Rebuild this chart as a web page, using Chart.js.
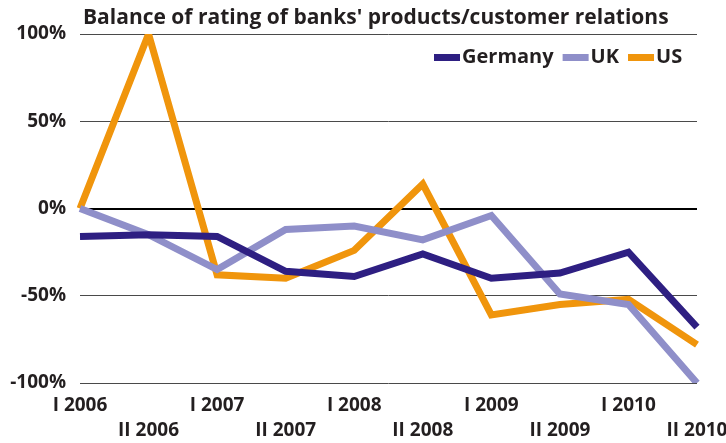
<!DOCTYPE html>
<html>
<head>
<meta charset="utf-8">
<script src="https://cdn.jsdelivr.net/npm/chart.js@4.4.1/dist/chart.umd.min.js"></script>
<style>
  html, body { margin: 0; padding: 0; background: #fff; }
  #wrap { width: 726px; height: 443px; position: relative; }
</style>
</head>
<body>
<div id="wrap"><canvas id="c" width="726" height="443"></canvas></div>
<script>
const titleText = "Balance of rating of banks' products/customer relations";
const periods = ["I 2006", "II 2006", "I 2007", "II 2007", "I 2008", "II 2008", "I 2009", "II 2009", "I 2010", "II 2010"];
const germany = [-16, -15, -16, -36, -39, -26, -40, -37, -25, -68];
const uk = [0, -15, -35, -12, -10, -18, -4, -49, -55, -100];
const us = [0, 100, -38, -40, -24, 14, -61, -55, -52, -78];
const seriesNames = ["Germany", "UK", "US"];
const seriesColors = ["#2e1f82", "#8f8fc9", "#f0950c"];

const FONT = "'Open Sans', sans-serif";
const INK = "#231f20";

// Two-row category labels: first half-years on the top row, second on the bottom row
const staggered = periods.map((p, i) => (i % 2 === 0 ? [p, ""] : ["", p]));

// Title plus an in-plot legend drawn over the plot
const overlay = {
  id: "overlay",
  afterDraw(chart) {
    const ctx = chart.ctx;
    ctx.save();
    ctx.fillStyle = INK;
    ctx.textBaseline = "middle";
    ctx.textAlign = "left";
    ctx.font = "700 21px " + FONT;
    ctx.fillText(titleText, 83, 18);

    ctx.font = "700 20px " + FONT;
    let x = 434;
    const y = 57;
    chart.data.datasets.forEach(ds => {
      ctx.fillStyle = ds.borderColor;
      ctx.fillRect(x, y - 3, 26, 7);
      x += 28;
      ctx.fillStyle = INK;
      ctx.fillText(ds.label, x, y);
      x += ctx.measureText(ds.label).width + 9;
    });
    ctx.restore();
  }
};

const series = [germany, uk, us];

new Chart(document.getElementById("c"), {
  type: "line",
  data: {
    labels: staggered,
    datasets: series.map((vals, i) => ({
      label: seriesNames[i],
      data: vals,
      borderColor: seriesColors[i],
      backgroundColor: seriesColors[i],
      borderWidth: 7,
      pointRadius: 0,
      tension: 0,
      borderJoinStyle: "miter",
      borderCapStyle: "butt"
    }))
  },
  options: {
    responsive: false,
    animation: false,
    layout: { padding: { left: 0, right: 29, top: 34, bottom: 0 } },
    plugins: {
      legend: { display: false },
      title: { display: false },
      tooltip: { enabled: false }
    },
    scales: {
      x: {
        type: "category",
        offset: false,
        grid: { display: false, drawTicks: false },
        border: { display: false },
        ticks: {
          autoSkip: false,
          maxRotation: 0,
          minRotation: 0,
          padding: 10,
          color: INK,
          font: { family: FONT, size: 19, weight: "700", lineHeight: 1.32 }
        },
        afterFit(scale) {
          scale.height = 60;
          scale.paddingLeft = 0;
          scale.paddingRight = 0;
        }
      },
      y: {
        min: -100,
        max: 100,
        grid: {
          drawTicks: false,
          color: ctx => (ctx.tick && ctx.tick.value === 0 ? "#000000" : "#4a4a4a"),
          lineWidth: ctx => (ctx.tick && ctx.tick.value === 0 ? 2 : 1)
        },
        border: { display: false },
        ticks: {
          stepSize: 50,
          padding: 14,
          color: INK,
          font: { family: FONT, size: 19, weight: "700" },
          callback: v => v + "%"
        },
        afterFit(scale) {
          scale.width = 80;
          scale.paddingTop = 0;
          scale.paddingBottom = 0;
        }
      }
    }
  },
  plugins: [overlay]
});
</script>
</body>
</html>
